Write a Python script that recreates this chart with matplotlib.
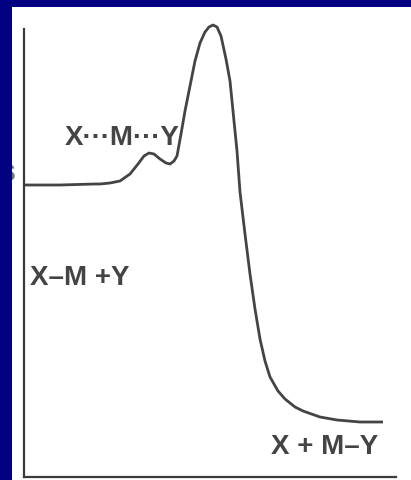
import matplotlib.pyplot as plt
from matplotlib.patches import Rectangle

# reaction profile (reaction coordinate, energy)
coord = [0, 36, 71, 76, 86, 96, 106, 114, 120, 125, 130, 136, 142, 146, 150,
         153, 157, 161, 166, 171, 176, 181, 185, 189, 193, 197, 202, 206, 209,
         213, 216, 221, 226, 231, 236, 241, 246, 254, 261, 271, 279, 296, 313,
         336, 359]
energy = [292, 292, 293, 293, 294, 296, 303, 313, 321, 324, 323, 318, 314, 313,
          316, 321, 343, 366, 391, 416, 434, 445, 450, 452, 450, 441, 418, 396,
          366, 326, 285, 243, 203, 168, 138, 116, 100, 86, 78, 70, 66, 60, 57,
          55, 55]

labels = ['X\u00b7\u00b7\u00b7M\u00b7\u00b7\u00b7Y', 'X\u2013M +Y', 'X + M\u2013Y']
label_x = [41, 6, 247]
label_y = [333, 193, 24]

W, H = 411, 481
fig = plt.figure(figsize=(W / 100, H / 100), dpi=100)
fig.patch.set_facecolor('white')

ax = fig.add_axes([24 / W, 3 / H, (396 - 24) / W, 460 / H])
ax.set_facecolor('none')
ax.set_xlim(0, 372)
ax.set_ylim(0, 460)

ax.plot(coord, energy, color='#444444', lw=2.0, solid_joinstyle='round',
        solid_capstyle='butt', clip_on=False)

for s in ['top', 'right']:
    ax.spines[s].set_visible(False)
for s in ['left', 'bottom']:
    ax.spines[s].set_color('#3a3a3a')
    ax.spines[s].set_linewidth(1.6)
ax.spines['left'].set_bounds(0, 448)
ax.set_xticks([])
ax.set_yticks([])

for txt, x, y in zip(labels, label_x, label_y):
    ax.text(x, y, txt, fontsize=20, fontweight='bold', color='#444444',
            family=['Liberation Sans', 'DejaVu Sans'], ha='left', va='baseline')

# clipped label fragment at the left edge, mostly hidden by the blue border
fig.text(16 / W, 1 - 181 / H, 's', fontsize=22, fontweight='bold', color='#777777',
         family='Liberation Sans', ha='right', va='baseline', zorder=1)

# blue slide border on the left and top
fig.patches.append(Rectangle((0, 0), 12 / W, 1, transform=fig.transFigure,
                             facecolor='#000080', edgecolor='none', zorder=10))
fig.patches.append(Rectangle((0, 1 - 8 / H), 1, 8 / H, transform=fig.transFigure,
                             facecolor='#000080', edgecolor='none', zorder=10))

fig.savefig('out.png', dpi=100)
